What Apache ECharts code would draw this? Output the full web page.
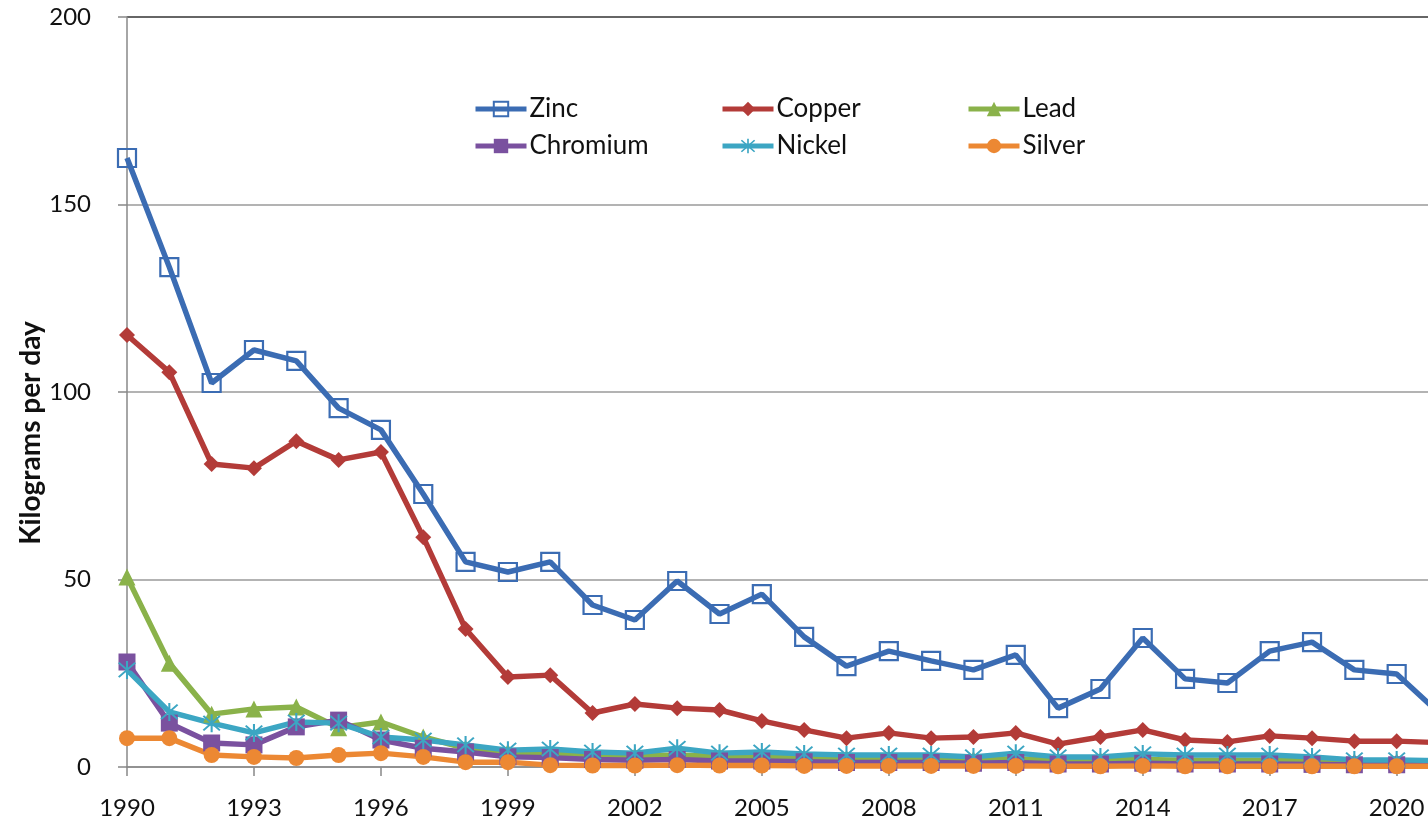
<!DOCTYPE html>
<html>
<head>
<meta charset="utf-8">
<script src="https://cdn.jsdelivr.net/npm/echarts@6/dist/echarts.min.js"></script>
<style>
html,body{margin:0;padding:0;overflow:hidden;background:#fff;width:1428px;height:820px;}
#chart{width:1460px;height:880px;}
</style>
</head>
<body>
<div id="chart"></div>
<script>
const years = ['1990','1991','1992','1993','1994','1995','1996','1997','1998','1999','2000','2001','2002','2003','2004','2005','2006','2007','2008','2009','2010','2011','2012','2013','2014','2015','2016','2017','2018','2019','2020','2021'];
const zinc     = [162.4,133.3,102.4,111.2,108.3,95.7,89.9,72.8,54.7,52.0,54.7,43.2,39.2,49.6,40.8,46.1,34.7,26.9,30.9,28.3,25.9,29.9,15.7,20.8,34.4,23.5,22.4,30.9,33.3,25.9,24.8,14.4];
const copper   = [115.2,105.3,80.8,79.7,86.9,81.9,84.0,61.3,36.8,24.0,24.5,14.4,16.8,15.7,15.2,12.3,9.9,7.7,9.1,7.7,8.0,9.1,6.1,8.0,9.9,7.2,6.7,8.3,7.7,6.9,6.9,6.5];
const lead     = [50.7,27.7,14.1,15.5,16.0,10.5,12.0,8.0,5.0,4.0,3.5,3.0,3.0,3.2,2.8,2.8,2.5,2.3,2.3,2.2,2.0,2.2,1.8,1.8,2.0,1.8,1.8,1.8,1.6,1.4,1.4,1.2];
const chromium = [28.0,11.7,6.4,5.9,10.7,12.5,7.2,5.0,4.0,2.7,2.5,2.0,1.8,2.0,1.6,1.6,1.4,1.2,1.2,1.2,1.0,1.2,0.8,0.8,1.0,0.8,0.8,0.8,0.7,0.6,0.6,0.5];
const nickel   = [25.9,14.7,11.7,9.1,12.0,11.7,8.0,7.2,5.9,4.5,4.8,4.0,3.7,5.0,3.7,4.0,3.5,3.2,3.2,3.2,2.7,3.7,2.7,2.7,3.5,3.2,3.2,3.2,2.7,1.9,1.9,1.7];
const silver   = [7.7,7.7,3.2,2.7,2.4,3.2,3.7,2.7,1.3,1.3,0.5,0.4,0.4,0.5,0.4,0.4,0.3,0.3,0.3,0.3,0.3,0.3,0.2,0.2,0.3,0.2,0.2,0.2,0.2,0.2,0.2,0.2];
const yTicks = [0,50,100,150,200];

const FONT = 'Lato, "Liberation Sans", sans-serif';
const asterisk = 'path://M9 0L11 0L11 20L9 20ZM1.3 2.7L2.7 1.3L18.7 17.3L17.3 18.7ZM17.3 1.3L18.7 2.7L2.7 18.7L1.3 17.3Z';

function mk(name, data, color, symbol, size, hollow) {
  return {
    name: name, type: 'line', data: data,
    symbol: symbol, symbolSize: size,
    showAllSymbol: true,
    lineStyle: {color: color, width: 5.5},
    itemStyle: hollow ? {color: 'rgba(255,255,255,0)', borderColor: color, borderWidth: 2.2} : {color: color, borderWidth: 0},
    emphasis: {disabled: true},
    animation: false
  };
}

const chart = echarts.init(document.getElementById('chart'));
const legendBase = {
  orient: 'vertical', top: 96, padding: 0, itemWidth: 51, itemHeight: 18, itemGap: 11,
  lineStyle: {width: 5},
  textStyle: {fontFamily: FONT, fontSize: 26, lineHeight: 26, color: '#111', padding: [0,0,0,-2]},
  selectedMode: false
};
chart.setOption({
  animation: false,
  grid: {left: 127, right: 21, top: 17, bottom: 113, outerBoundsMode: 'none', containLabel: false},
  legend: [
    Object.assign({}, legendBase, {left: 473, data: ['Zinc','Chromium']}),
    Object.assign({}, legendBase, {left: 720, data: ['Copper','Nickel']}),
    Object.assign({}, legendBase, {left: 966, data: ['Lead','Silver']})
  ],
  graphic: [{
    type: 'text', x: 31, y: 433,
    rotation: Math.PI/2,
    style: {text: 'Kilograms per day', font: 'bold 28px ' + FONT, fill: '#111', align: 'center', verticalAlign: 'middle'}
  }],
  xAxis: {
    type: 'category', data: years, boundaryGap: false,
    axisLine: {lineStyle: {color: '#888', width: 1.5}},
    axisTick: {show: true, interval: 2, length: 9, lineStyle: {color: '#888', width: 1.5}},
    axisLabel: {interval: 2, fontFamily: FONT, fontSize: 24, lineHeight: 24, color: '#111', margin: 29, verticalAlign: 'top'},
    splitLine: {show: false}
  },
  yAxis: {
    type: 'value', min: 0, max: 200, interval: 50,
    axisLine: {show: true, lineStyle: {color: '#888', width: 1.5}},
    axisTick: {show: true, length: 9, lineStyle: {color: '#888', width: 1.5}},
    axisLabel: {fontFamily: FONT, fontSize: 24, color: '#111', margin: 36, align: 'right'},
    splitLine: {show: true, lineStyle: {color: ['#9a9a9a','#9a9a9a','#9a9a9a','#9a9a9a','#333'], width: 1.5}}
  },
  series: [
    mk('Zinc', zinc, '#3B6CB3', 'rect', 18, true),
    mk('Copper', copper, '#B33B38', 'diamond', 16, false),
    mk('Lead', lead, '#8AB24A', 'triangle', 17, false),
    mk('Chromium', chromium, '#7A519F', 'rect', 17, false),
    mk('Nickel', nickel, '#3CA6C3', asterisk, 18, false),
    mk('Silver', silver, '#EC8833', 'circle', 16, false)
  ]
});
</script>
</body>
</html>
